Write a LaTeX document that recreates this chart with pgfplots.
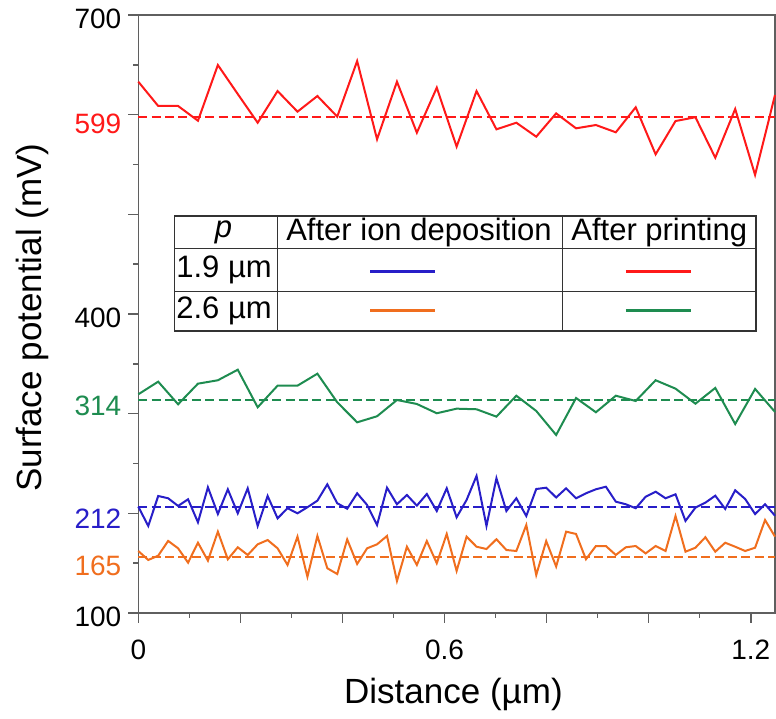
\documentclass[border=0pt]{standalone}
\usepackage{pgfplots}
\pgfplotsset{compat=1.18}
\usepackage{pgfplotstable}
\usepackage{fontspec}
\setmainfont{Liberation Sans}
\definecolor{cred}{RGB}{255,25,25}
\definecolor{cgreen}{RGB}{30,140,80}
\definecolor{cblue}{RGB}{40,30,200}
\definecolor{corange}{RGB}{240,110,30}
\definecolor{cax}{RGB}{95,95,95}

% 1.9 um after ion deposition (blue) and 2.6 um after ion deposition (orange)
\pgfplotstableread{
x blue orange
0 206.7 162.2
0.0195 187.3 153.2
0.0390 217.4 157.5
0.0585 215.1 172.3
0.0780 207.4 164.9
0.0975 214.1 150.5
0.1169 191.0 170.5
0.1364 226.1 152.5
0.1559 199.3 181.6
0.1754 224.1 153.9
0.1949 200.0 165.9
0.2144 225.1 158.2
0.2339 187.3 168.9
0.2534 217.4 173.2
0.2729 195.0 164.9
0.2924 205.1 148.2
0.3119 200.0 176.6
0.3314 206.1 136.4
0.3509 212.7 177.3
0.3703 229.1 144.9
0.3898 210.1 139.1
0.4093 204.6 173.8
0.4288 220.1 149.2
0.4483 208.4 164.9
0.4678 188.3 168.9
0.4873 225.7 177.3
0.5068 209.1 132.1
0.5263 218.4 166.5
0.5458 207.7 148.2
0.5653 219.4 172.2
0.5848 202.3 149.9
0.6043 225.1 179.3
0.6237 196.0 142.2
0.6432 213.4 176.6
0.6627 237.5 166.5
0.6822 187.3 164.2
0.7017 235.2 174.0
0.7212 202.3 163.2
0.7407 215.1 162.2
0.7602 197.3 188.3
0.7797 224.4 138.1
0.7992 225.7 172.2
0.8187 215.9 146.6
0.8382 225.1 181.6
0.8577 215.1 179.3
0.8771 220.1 153.9
0.8966 224.1 167.2
0.9161 226.7 167.2
0.9356 211.7 158.2
0.9551 209.1 165.9
0.9746 205.1 167.2
0.9941 216.7 159.8
1.0136 221.7 167.2
1.0331 215.1 162.2
1.0526 219.1 197.3
1.0721 192.4 161.5
1.0916 205.7 165.5
1.1111 210.7 176.0
1.1305 217.7 161.5
1.1500 204.4 170.5
1.1695 223.1 166.5
1.1890 214.4 162.2
1.2085 199.3 165.5
1.2280 209.1 193.3
1.2475 197.6 176.6
}\ionTable

% 1.9 um after printing (red) and 2.6 um after printing (green)
\pgfplotstableread{
x red green
0 633.1 319.4
0.0390 608.7 332.1
0.0780 608.7 309.4
0.1169 593.9 330.1
0.1559 649.8 333.5
0.1949 620.7 344.1
0.2339 591.9 306.4
0.2729 623.7 328.1
0.3119 603.0 328.1
0.3509 618.7 340.1
0.3898 598.0 311.4
0.4288 653.8 291.3
0.4678 575.3 297.4
0.5068 633.1 313.7
0.5458 581.9 309.7
0.5848 627.1 300.4
0.6237 567.9 305.0
0.6627 623.7 304.4
0.7017 585.3 297.0
0.7407 591.9 318.0
0.7797 577.9 302.7
0.8187 601.3 278.6
0.8577 586.3 315.7
0.8966 589.6 301.4
0.9356 582.3 318.0
0.9746 607.4 312.7
1.0136 560.2 333.5
1.0526 593.6 325.1
1.0916 597.4 310.0
1.1305 556.8 325.8
1.1695 605.7 289.6
1.2085 539.5 324.8
1.2475 619.7 301.7
}\printTable

\begin{document}
\begin{tikzpicture}
\begin{axis}[
  scale only axis,
  width=318.35pt, height=299pt,
  xmin=0, xmax=1.2475, ymin=100, ymax=700,
  axis line style={draw=cax, line width=0.75pt},
  every tick/.style={draw=cax, line width=0.75pt},
  tick align=outside,
  xtick pos=bottom, ytick pos=left,
  xtick={0,0.2,0.4,0.6,0.8,1.0,1.2},
  xticklabels={0,,,0.6,,,1.2},
  minor xtick={0.1,0.3,0.5,0.7,0.9,1.1},
  ytick={100,200,300,400,500,600,700},
  yticklabels={100,,,400,,,700},
  minor ytick={150,250,350,450,550,650},
  major tick length=5pt, minor tick length=2.5pt,
  ticklabel style={font=\fontsize{14}{17}\selectfont},
  yticklabel style={yshift=-2pt},
  xticklabel style={yshift=-5pt},
  extra y ticks={599,316,203,155.5},
  extra y tick labels={\textcolor{cred}{599},\textcolor{cgreen}{314},\textcolor{cblue}{212},\textcolor{corange}{165}},
  extra y tick style={every tick/.style={draw=none}, yticklabel style={yshift=-2pt}},
  xlabel={Distance (µm)},
  ylabel={Surface potential (mV)},
  label style={font=\fontsize{17.5}{21}\selectfont},
  xlabel style={at={(axis description cs:0.495,-0.137)}, anchor=center},
  ylabel style={at={(axis description cs:-0.1665,0.494)}, anchor=center},
  clip=false,
]
% mean levels (dashed)
\addplot[cred, line width=1pt, dash pattern=on 4.5pt off 2.2pt] coordinates {(0,597.7) (1.2475,597.7)};
\addplot[cgreen, line width=1pt, dash pattern=on 4.5pt off 2.2pt] coordinates {(0,313.7) (1.2475,313.7)};
\addplot[cblue, line width=1pt, dash pattern=on 4.5pt off 2.2pt] coordinates {(0,206.4) (1.2475,206.4)};
\addplot[corange, line width=1pt, dash pattern=on 4.5pt off 2.2pt] coordinates {(0,156.5) (1.2475,156.5)};
% profiles
\addplot[cred, line width=1pt] table[x=x, y=red] {\printTable};
\addplot[cgreen, line width=1pt] table[x=x, y=green] {\printTable};
\addplot[cblue, line width=1pt] table[x=x, y=blue] {\ionTable};
\addplot[corange, line width=1pt] table[x=x, y=orange] {\ionTable};
% legend table
\draw[draw=black!80, line width=0.6pt, fill=white] (0.0716,383.0) rectangle (1.2102,498.3);
\draw[draw=black!80, line width=0.6pt] (0.0716,466.1) -- (1.2102,466.1);
\draw[draw=black!80, line width=0.6pt] (0.0716,422.4) -- (1.2102,422.4);
\draw[draw=black!80, line width=0.6pt] (0.2733,383.0) -- (0.2733,498.3);
\draw[draw=black!80, line width=0.6pt] (0.8312,383.0) -- (0.8312,498.3);
\node[font=\fontsize{15.5}{18}\selectfont\itshape] at (0.167,482.2) {p};
\node[font=\fontsize{15.5}{18}\selectfont] at (0.5500,482.2) {After ion deposition};
\node[font=\fontsize{15.5}{18}\selectfont] at (1.0207,482.2) {After printing};
\node[font=\fontsize{15.5}{18}\selectfont] at (0.168,444.3) {1.9 µm};
\node[font=\fontsize{15.5}{18}\selectfont] at (0.168,402.7) {2.6 µm};
\draw[cblue, line width=1.5pt] (0.4545,443.1) -- (0.5820,443.1);
\draw[cred, line width=1.5pt] (0.9553,443.1) -- (1.0837,443.1);
\draw[corange, line width=1.5pt] (0.4545,403.7) -- (0.5820,403.7);
\draw[cgreen, line width=1.5pt] (0.9553,403.7) -- (1.0837,403.7);
\end{axis}
\pgfresetboundingbox
\path[use as bounding box] ([xshift=-69.15pt,yshift=-53pt]current axis.south west) rectangle ([xshift=0.5pt,yshift=7.5pt]current axis.north east);
\end{tikzpicture}
\end{document}
